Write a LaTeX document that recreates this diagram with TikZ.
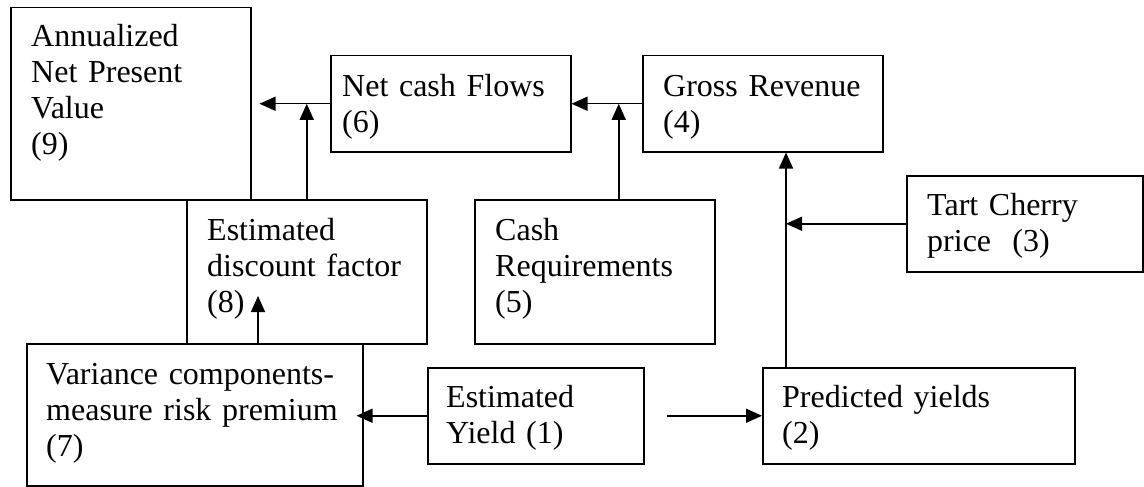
\documentclass[tikz,border=0pt]{standalone}
\usepackage{fontspec}
\setmainfont{Liberation Serif}
\usetikzlibrary{arrows.meta}
\newcommand{\lblfont}{\fontsize{32}{36}\selectfont\spaceskip=0.25em\relax\xspaceskip=0.25em\relax}
\begin{document}
\begin{tikzpicture}[x=1pt,y=-1pt,
 box/.style={draw, line width=1.5pt, inner sep=0pt, rectangle, anchor=north west},
 lbl/.style={anchor=base west, inner sep=0pt, text width=#1, align=left, font=\lblfont},
 arr/.style={line width=1.5pt, -{Triangle[length=16pt,width=14pt]}}]
\useasboundingbox (0,0) rectangle (1144,487);
% boxes
\node[box, minimum width=240pt, minimum height=192pt] (n9) at (10,7) {};
\node[box, minimum width=240pt, minimum height=96pt] (n6) at (330,55) {};
\node[box, minimum width=240pt, minimum height=96pt] (n4) at (642,55) {};
\node[box, minimum width=236pt, minimum height=96pt] (n3) at (906,175) {};
\node[box, minimum width=240pt, minimum height=144pt] (n8) at (186,199) {};
\node[box, minimum width=240pt, minimum height=144pt] (n5) at (474,199) {};
\node[box, minimum width=336pt, minimum height=142pt] (n7) at (26,343) {};
\node[box, minimum width=216pt, minimum height=96pt] (n1) at (427,367) {};
\node[box, minimum width=312pt, minimum height=96pt] (n2) at (762,367) {};
% texts
\node[lbl=225pt] (t9) at (31,47) {Annualized\\Net Present\\Value\\(9)};
\node[lbl=230pt] (t6) at (342,96) {Net cash Flows\\(6)};
\node[lbl=220pt] (t4) at (663,96) {Gross Revenue\\(4)};
\node[lbl=215pt] (t3) at (927,215) {Tart Cherry\\price\ \ (3)};
\node[lbl=220pt] (t8) at (207,240) {Estimated\\discount factor\\(8)};
\node[lbl=220pt] (t5) at (495,240) {Cash\\Requirements\\(5)};
\node[lbl=330pt] (t7) at (46,384) {Variance components-\\measure risk premium\\(7)};
\node[lbl=200pt] (t1) at (446,407) {Estimated\\Yield (1)};
\node[lbl=290pt] (t2) at (782,407) {Predicted yields\\(2)};
% connectors
\coordinate (c5) at ([xshift=24pt]n5.north);
\coordinate (c2) at ([xshift=24pt]n2.north west);
\coordinate (c1) at ([xshift=22pt]n1.east);
\coordinate (c7) at ([xshift=72pt]n8.south west);
\coordinate (c8) at (258,296);
\draw[arr, shorten >=8pt] (n6.west) -- (n9.east);
\draw[arr] (n8.north) -- (n8.north |- n6.west);
\draw[arr] (n4.west) -- (n6.east);
\draw[arr] (c5) -- (c5 |- n4.west);
\draw[arr] (c2) -- (c2 |- n4.south);
\draw[arr] (n3.west) -- (n3.west -| c2);
\draw[arr, shorten >=-7pt] (n1.west) -- (n1.west -| n7.east);
\draw[arr] (c1) -- (n2.west);
\draw[arr] (c7) -- (c8);
\end{tikzpicture}
\end{document}
